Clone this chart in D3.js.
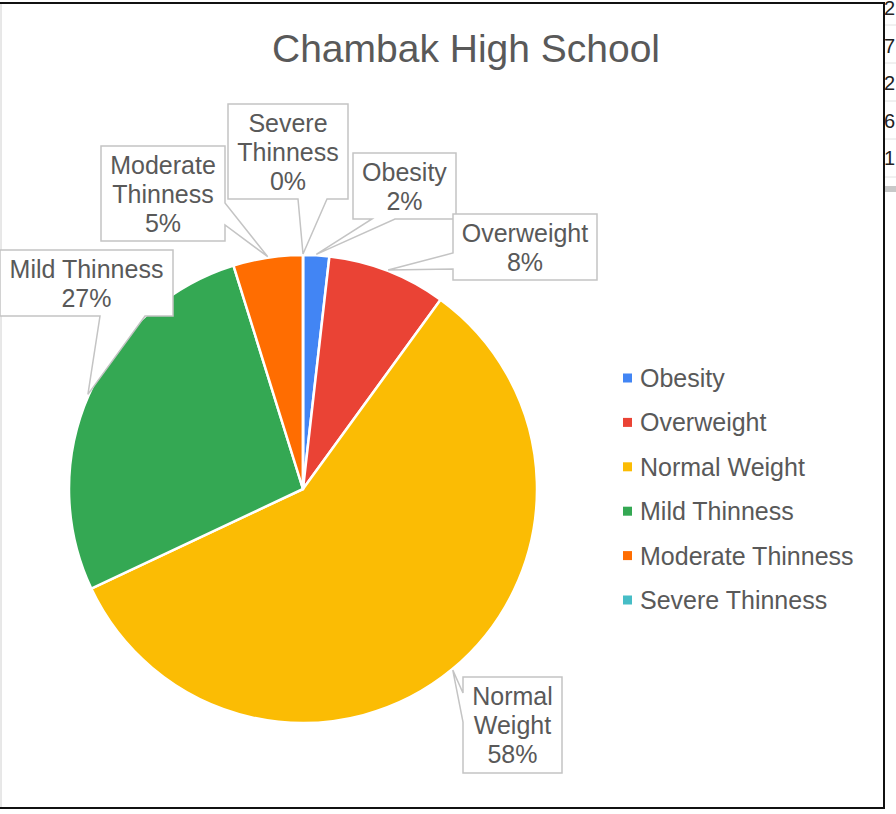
<!DOCTYPE html>
<html>
<head>
<meta charset="utf-8">
<script src="https://cdn.jsdelivr.net/npm/d3@7"></script>
<style>
  html, body { margin: 0; padding: 0; background: #fff; }
  #chart { width: 896px; height: 814px; }
  text { font-family: "Liberation Sans", Arial, sans-serif; }
</style>
</head>
<body>
<div id="chart"></div>
<script>
// categories and shares
const categories = ['Obesity', 'Overweight', 'Normal Weight', 'Mild Thinness', 'Moderate Thinness', 'Severe Thinness'];
const values = [1.8, 8.2, 58.0, 27.2, 4.8, 0];
const colors = ['#4285f4', '#ea4335', '#fbbc04', '#34a853', '#ff6d01', '#46bdc6'];
// label text lines (the percent is appended from the data)
const labelLines = [['Obesity'], ['Overweight'], ['Normal', 'Weight'], ['Mild Thinness'], ['Moderate', 'Thinness'], ['Severe', 'Thinness']];
// spreadsheet cells peeking in at the right edge
const sideCells = ['2', '7', '2', '6', '1'];

// callout placement (manual in the original)
const callouts = [
  { x: 353, y: 153, w: 103, h: 66, side: 'bottom', base: [372, 395] },
  { x: 453, y: 214, w: 144, h: 66, side: 'left', base: [253, 269] },
  { x: 463, y: 677, w: 99, h: 96, side: 'left', base: [693, 722] },
  { x: 0, y: 250, w: 173, h: 66, side: 'bottom', base: [100, 145] },
  { x: 101, y: 146, w: 124, h: 95, side: 'right', base: [203, 225] },
  { x: 228, y: 104, w: 120, h: 95, side: 'bottom', base: [298, 327] },
];

const width = 896, height = 814;
const cx = 303, cy = 489, radius = 234;
const textColor = '#595959';

const svg = d3.select('#chart').append('svg')
  .attr('width', width)
  .attr('height', height);

// spreadsheet bits outside the chart
const side = svg.append('g');
sideCells.forEach((c, i) => {
  side.append('line')
    .attr('x1', 884).attr('x2', width)
    .attr('y1', 25 + i * 38).attr('y2', 25 + i * 38)
    .attr('stroke', '#e2e2e2');
  side.append('text')
    .attr('x', 884).attr('y', 15 + i * 37.5)
    .attr('font-size', 20)
    .attr('fill', '#222')
    .text(c);
});
side.append('rect').attr('x', 884).attr('y', 186).attr('width', 12).attr('height', 6).attr('fill', '#c8c8c8');

// chart frame
svg.append('line').attr('x1', 1).attr('x2', 1).attr('y1', 4).attr('y2', 808).attr('stroke', '#d0d0d0');
svg.append('path')
  .attr('d', 'M0,3 H884 V808 H0')
  .attr('fill', 'none')
  .attr('stroke', '#111')
  .attr('stroke-width', 2);

// title
svg.append('text')
  .attr('x', 466).attr('y', 62)
  .attr('text-anchor', 'middle')
  .attr('font-size', 39)
  .attr('fill', textColor)
  .text('Chambak High School');

// pie
const total = d3.sum(values);
const pie = d3.pie().sort(null).value(d => d);
const arcs = pie(values);
const arc = d3.arc().innerRadius(0).outerRadius(radius);

const g = svg.append('g').attr('transform', `translate(${cx},${cy})`);
g.selectAll('path')
  .data(arcs)
  .join('path')
  .attr('d', arc)
  .attr('fill', (d, i) => colors[i])
  .attr('stroke', '#fff')
  .attr('stroke-width', 2.5)
  .attr('stroke-linejoin', 'round');

// callouts
const labels = svg.append('g');
arcs.forEach((d, i) => {
  const c = callouts[i];
  const mid = (d.startAngle + d.endAngle) / 2;
  const tx = cx + Math.sin(mid) * (radius + 1);
  const ty = cy - Math.cos(mid) * (radius + 1);
  const r = c.x + c.w, b = c.y + c.h;
  let p;
  if (c.side === 'bottom') {
    p = `M${c.x},${c.y} H${r} V${b} H${c.base[1]} L${tx},${ty} L${c.base[0]},${b} H${c.x} Z`;
  } else if (c.side === 'right') {
    p = `M${c.x},${c.y} H${r} V${c.base[0]} L${tx},${ty} L${r},${c.base[1]} V${b} H${c.x} Z`;
  } else {
    p = `M${c.x},${c.y} H${r} V${b} H${c.x} V${c.base[1]} L${tx},${ty} L${c.x},${c.base[0]} Z`;
  }
  labels.append('path')
    .attr('d', p)
    .attr('fill', '#fff')
    .attr('stroke', '#c4c4c4')
    .attr('stroke-width', 1.5);

  const lines = labelLines[i].concat([Math.round(values[i] / total * 100) + '%']);
  const lh = 29;
  const y0 = c.y + c.h / 2 - (lines.length - 1) * lh / 2;
  lines.forEach((t, j) => {
    labels.append('text')
      .attr('x', c.x + c.w / 2)
      .attr('y', y0 + j * lh)
      .attr('dy', '0.36em')
      .attr('text-anchor', 'middle')
      .attr('font-size', 25)
      .attr('fill', textColor)
      .text(t);
  });
});

// legend
const legend = svg.append('g');
categories.forEach((name, i) => {
  const y = 378 + i * 44.4;
  legend.append('rect')
    .attr('x', 623).attr('y', y - 4.5)
    .attr('width', 9).attr('height', 9)
    .attr('fill', colors[i]);
  legend.append('text')
    .attr('x', 640).attr('y', y)
    .attr('dy', '0.36em')
    .attr('font-size', 25)
    .attr('fill', textColor)
    .text(name);
});
</script>
</body>
</html>
